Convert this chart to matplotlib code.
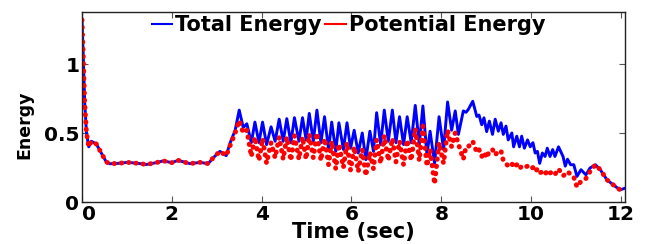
import matplotlib
matplotlib.use('Agg')
import matplotlib.pyplot as plt
from matplotlib.lines import Line2D

# total energy at peaks / troughs
t_total = [0.0, 0.03, 0.06, 0.10, 0.15, 0.21, 0.32, 0.43, 0.54, 0.62, 0.80, 1.02, 1.25, 1.43, 1.65,
           1.81, 2.0, 2.14, 2.40, 2.63, 2.81, 2.92, 3.07, 3.21, 3.30, 3.41, 3.50, 3.59, 3.67, 3.77,
           3.85, 3.94, 4.02, 4.11, 4.21, 4.30, 4.39, 4.48, 4.56, 4.65, 4.73, 4.83, 4.91, 4.99, 5.06,
           5.15, 5.23, 5.32, 5.40, 5.49, 5.56, 5.65, 5.72, 5.82, 5.90, 5.98, 6.06, 6.15, 6.24, 6.32,
           6.41, 6.49, 6.56, 6.65, 6.73, 6.82, 6.91, 6.99, 7.07, 7.16, 7.24, 7.33, 7.42, 7.51, 7.59,
           7.68, 7.75, 7.85, 7.95, 8.05, 8.14, 8.23, 8.31, 8.38, 8.49, 8.55, 8.60, 8.70, 8.79, 8.84,
           8.90, 8.95, 9.01, 9.07, 9.14, 9.20, 9.27, 9.33, 9.38, 9.44, 9.49, 9.57, 9.61, 9.68, 9.74,
           9.79, 9.85, 9.92, 9.98, 10.04, 10.09, 10.14, 10.19, 10.25, 10.31, 10.36, 10.42, 10.48,
           10.53, 10.61, 10.71, 10.76, 10.81, 10.88, 10.95, 11.02, 11.11, 11.22, 11.31, 11.43,
           11.54, 11.69, 11.83, 11.98, 12.09]
e_total = [1.32, 1.04, 0.72, 0.50, 0.40, 0.44, 0.42, 0.355, 0.29, 0.277, 0.28, 0.287, 0.28, 0.272, 0.285,
           0.298, 0.285, 0.302, 0.278, 0.287, 0.278, 0.32, 0.367, 0.336, 0.43, 0.52, 0.666, 0.54, 0.567, 0.43,
           0.579, 0.43, 0.579, 0.416, 0.545, 0.44, 0.60, 0.44, 0.604, 0.43, 0.611, 0.44, 0.611, 0.45, 0.642,
           0.44, 0.666, 0.43, 0.618, 0.38, 0.579, 0.367, 0.574, 0.38, 0.574, 0.39, 0.52, 0.355, 0.50, 0.307,
           0.513, 0.367, 0.647, 0.416, 0.666, 0.44, 0.666, 0.43, 0.618, 0.416, 0.618, 0.43, 0.70, 0.416, 0.696,
           0.343, 0.513, 0.28, 0.618, 0.38, 0.725, 0.52, 0.66, 0.49, 0.66, 0.65, 0.67, 0.73, 0.62, 0.63,
           0.56, 0.61, 0.51, 0.586, 0.49, 0.60, 0.513, 0.574, 0.49, 0.55, 0.45, 0.50, 0.40, 0.477, 0.40,
           0.477, 0.39, 0.45, 0.40, 0.43, 0.355, 0.367, 0.28, 0.355, 0.33, 0.39, 0.33, 0.38,
           0.33, 0.40, 0.33, 0.26, 0.31, 0.27, 0.27, 0.185, 0.234, 0.197, 0.246, 0.27,
           0.234, 0.16, 0.124, 0.088, 0.10]

# potential energy (same sample times)
t_pot = t_total
e_pot = [1.32, 1.04, 0.72, 0.50, 0.40, 0.44, 0.42, 0.355, 0.29, 0.277, 0.28, 0.287, 0.28, 0.272, 0.285,
         0.298, 0.285, 0.302, 0.278, 0.287, 0.278, 0.32, 0.367, 0.336, 0.41, 0.50, 0.59, 0.50, 0.52, 0.33,
         0.47, 0.30, 0.46, 0.28, 0.43, 0.32, 0.47, 0.31, 0.47, 0.30, 0.48, 0.31, 0.47, 0.31, 0.49,
         0.32, 0.50, 0.30, 0.46, 0.27, 0.44, 0.24, 0.42, 0.25, 0.43, 0.23, 0.40, 0.22, 0.38, 0.19,
         0.36, 0.24, 0.45, 0.28, 0.48, 0.30, 0.46, 0.29, 0.44, 0.27, 0.45, 0.30, 0.53, 0.30, 0.55,
         0.26, 0.38, 0.13, 0.43, 0.28, 0.52, 0.40, 0.50, 0.42, 0.31, 0.40, 0.40, 0.44, 0.36, 0.38,
         0.33, 0.36, 0.32, 0.37, 0.38, 0.34, 0.37, 0.37, 0.30, 0.28, 0.26, 0.28, 0.25, 0.27, 0.24,
         0.26, 0.25, 0.26, 0.24, 0.25, 0.22, 0.24, 0.21, 0.22, 0.20, 0.23, 0.21, 0.22,
         0.20, 0.24, 0.19, 0.20, 0.22, 0.20, 0.18, 0.11, 0.15, 0.17, 0.22, 0.27,
         0.234, 0.16, 0.124, 0.088, 0.10]

x_ticks = [0, 2, 4, 6, 8, 10, 12]
y_ticks = [0, 0.5, 1]
y_ticklabels = ['0', '0.5', '1']

plt.rcParams['font.family'] = ['DejaVu Sans']
plt.rcParams['font.weight'] = 'bold'

fig = plt.figure(figsize=(6.57, 2.44), dpi=100)
ax = fig.add_axes([82/657, 1-202/244, 543/657, 190/244])

ax.plot(t_total, e_total, color='#0000ff', lw=2.1, solid_joinstyle='round')
ax.plot(t_pot, e_pot, color='#ff0000', lw=3.5, linestyle=(0, (0.1, 1.4)),
        dash_capstyle='round', dash_joinstyle='round')

ax.set_xlim(0, 12.09)
ax.set_ylim(0, 1.377)
ax.set_xticks(x_ticks)
ax.set_yticks(y_ticks)
ax.set_yticklabels(y_ticklabels)
ax.tick_params(direction='in', length=4, width=0.8, top=True, right=True,
               labelsize=14.5, pad=2, colors='#555555', labelcolor='black')
ax.get_xticklabels()[0].set_horizontalalignment('left')
for s in ax.spines.values():
    s.set_linewidth(1.0)
    s.set_color('#222222')

ax.set_xlabel('Time (sec)', fontsize=15, fontweight='bold', labelpad=-1)
ax.set_ylabel('Energy', fontsize=12.5, fontweight='bold')
ax.yaxis.set_label_coords(-0.09, 0.405)

handles = [Line2D([], [], color='#0000ff', lw=1.5), Line2D([], [], color='#ff0000', lw=1.5)]
ax.legend(handles, ['Total Energy', 'Potential Energy'], loc='center left',
          bbox_to_anchor=(0.128, 0.932), ncol=2, frameon=False,
          handlelength=1.0, handletextpad=0.15, columnspacing=0.15,
          borderpad=0, borderaxespad=0, prop={'weight': 'bold', 'size': 15})

fig.savefig('out.png', dpi=100)
